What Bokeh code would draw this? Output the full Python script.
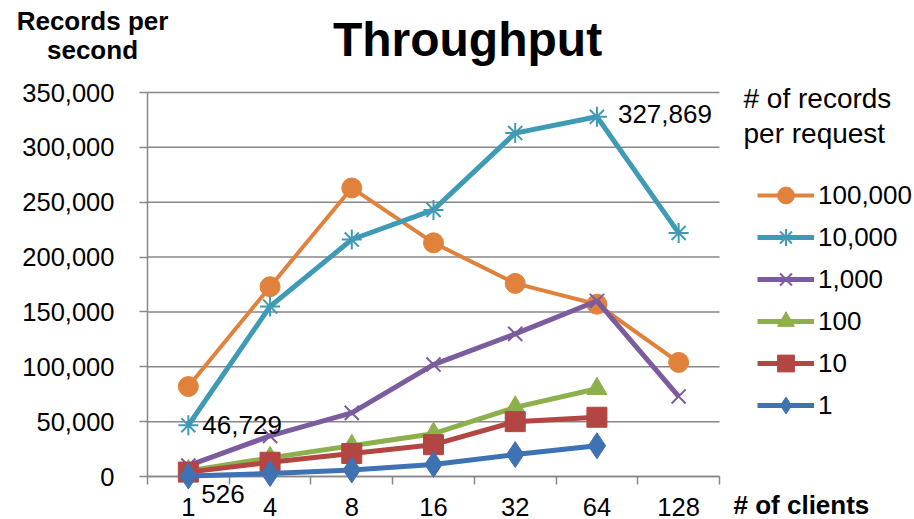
from bokeh.plotting import figure
from bokeh.models import Label, Legend, LegendItem, FixedTicker, NumeralTickFormatter, Range1d
from bokeh.embed import file_html
from bokeh.resources import INLINE

# Throughput (records per second) by number of clients,
# one series per batch size (# of records per request)
clients = ["1", "4", "8", "16", "32", "64", "128"]

rps_100000 = [82000, 173000, 263000, 213000, 176000, 157000, 104000]
rps_10000 = [46729, 155000, 216000, 243000, 313000, 327869, 222000]
rps_1000 = [10000, 37000, 58000, 102000, 130000, 160000, 73000]
rps_100 = [5000, 17000, 28000, 39000, 63000, 80000]
rps_10 = [4000, 13000, 21000, 29000, 50000, 54000]
rps_1 = [526, 2700, 6000, 11000, 20000, 28000]

series_names = ["100,000", "10,000", "1,000", "100", "10", "1"]
y_ticks = [0, 50000, 100000, 150000, 200000, 250000, 300000, 350000]

FONT = "Liberation Sans"
GRID = "#878787"
W, H = 914, 519

# plot area inside the page: x 147..719 px, y 92..476 px
left, right, top, bottom = 147, 719, 92, 476
n = len(clients)
ymax = 350000
px_x = n / (right - left)
px_y = ymax / (bottom - top)

p = figure(width=W, height=H, output_backend="svg", toolbar_location=None,
           x_range=Range1d(-left * px_x, n + (W - right) * px_x),
           y_range=Range1d(-(H - bottom) * px_y, ymax + top * px_y),
           min_border=0)
p.outline_line_color = None
p.background_fill_color = "white"
p.border_fill_color = "white"
p.xgrid.grid_line_color = None
p.ygrid.grid_line_color = None

# category slots: points sit at the middle of each slot
xs = [i + 0.5 for i in range(n)]

# x axis pinned to y = 0: ticks on slot boundaries, labels at slot centres
xa = p.xaxis[0]
xa.fixed_location = 0
xa.bounds = (0, n)
xa.ticker = FixedTicker(ticks=xs, minor_ticks=list(range(n + 1)))
xa.major_label_overrides = {x: c for x, c in zip(xs, clients)}
xa.major_tick_out = 0
xa.major_tick_in = 0
xa.minor_tick_out = 8
xa.minor_tick_in = 0
xa.minor_tick_line_color = GRID
xa.minor_tick_line_width = 1.5
xa.axis_line_color = GRID
xa.axis_line_width = 1.5
xa.major_label_standoff = 13
xa.major_label_text_font = FONT
xa.major_label_text_font_size = "25.5px"
xa.major_label_text_color = "black"
xa.level = "underlay"

ya = p.yaxis[0]
ya.fixed_location = 0
ya.bounds = (0, ymax)
ya.ticker = FixedTicker(ticks=y_ticks)
ya.formatter = NumeralTickFormatter(format="0,0")
ya.major_tick_out = 8
ya.major_tick_in = 0
ya.minor_tick_out = 0
ya.minor_tick_in = 0
ya.major_tick_line_color = GRID
ya.major_tick_line_width = 1.5
ya.axis_line_color = GRID
ya.axis_line_width = 1.5
ya.major_label_standoff = 25
ya.major_label_text_font = FONT
ya.major_label_text_font_size = "25.5px"
ya.major_label_text_color = "black"
ya.level = "underlay"

# horizontal gridlines across the category span only
p.segment(x0=[0] * len(y_ticks), x1=[n] * len(y_ticks), y0=y_ticks, y1=y_ticks,
          line_color=GRID, line_width=1.5, level="underlay")

styles = [
    (rps_100000, "#E0823C", "circle", 4, 20, 1),
    (rps_10000, "#3F9BB5", "asterisk", 5, 20, 2),
    (rps_1000, "#7B5C9E", "x", 5, 20, 2),
    (rps_100, "#8DAF4C", "triangle", 5, 20, 1),
    (rps_10, "#B34642", "square", 5, 20, 1),
    (rps_1, "#3F72B2", "diamond", 5, 26, 1),
]

items = []
for (vals, color, marker, lw, size, mlw), name in zip(styles, series_names):
    x = xs[:len(vals)]
    ln = p.line(x, vals, line_color=color, line_width=lw, line_join="round")
    sc = p.scatter(x, vals, marker=marker, size=size, fill_color=color,
                   line_color=color, line_width=mlw)
    items.append(LegendItem(label=name, renderers=[ln, sc]))

# legend block: top at 174 px, six rows of 42 px
ROW = 42
legend = Legend(items=items, location=(757, H - (174 + ROW * len(items))),
                padding=0, margin=0, spacing=0, glyph_width=57, glyph_height=ROW,
                label_height=ROW, label_standoff=4, label_text_font=FONT,
                label_text_font_size="26px", label_text_color="black",
                border_line_color=None, background_fill_alpha=0)
p.add_layout(legend)


def page_label(text, x, baseline, size=25, bold=False, align="left"):
    # placed by the vertical middle of the line
    mid = baseline - 0.3465 * size
    p.add_layout(Label(x=x, y=H - mid, x_units="screen", y_units="screen",
                       text=text, text_font=FONT, text_font_size=f"{size}px",
                       text_font_style="bold" if bold else "normal",
                       text_align=align, text_baseline="middle",
                       text_color="black"))


# title, axis names and legend heading
page_label("Throughput", 467, 56, size=48, bold=True, align="center")
page_label("Records per", 92, 30, size=26, bold=True, align="center")
page_label("second", 92, 59, size=26, bold=True, align="center")
page_label("# of clients", 733, 514, size=26, bold=True)
page_label("# of records", 743, 108, size=28)
page_label("per request", 743, 143, size=28)

# value callouts next to their points
for xi, vals, dx, dy in [(5, rps_10000, 21, 3), (0, rps_10000, 14, 0), (0, rps_1, 13, -18)]:
    val = vals[xi]
    p.add_layout(Label(x=xs[xi], y=val, x_offset=dx, y_offset=dy,
                       text=f"{val:,}", text_font=FONT, text_font_size="26px",
                       text_baseline="middle", text_color="black"))

open("out.html", "w").write(file_html(p, INLINE))
